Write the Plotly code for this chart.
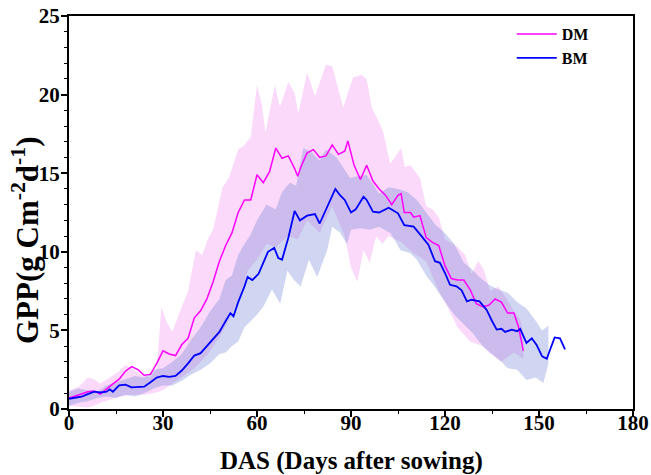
import plotly.graph_objects as go

# ---- DM (mean line) ----
dm_day = [0, 2, 4, 6, 8, 10, 12, 14, 16, 18, 20, 22, 24, 26, 28, 30, 32, 34, 36, 38,
          40, 42, 44, 46, 48, 50, 52, 54, 56, 58, 60, 62, 64, 66, 68, 70, 72, 73, 74, 76,
          78, 80, 82, 84, 86, 88, 89, 91, 93, 95, 97, 99, 101, 103, 105, 106, 107, 109, 110, 112,
          114, 116, 118, 120, 122, 124, 126, 128, 130, 132, 134, 136, 138, 140, 142, 143.5, 145]
dm_gpp = [0.7, 0.8, 0.95, 1.1, 1.15, 0.95, 1.3, 1.6, 1.9, 2.4, 2.7, 2.5, 2.15, 2.2, 2.9, 3.7, 3.5, 3.4, 4.1, 4.5,
          5.8, 6.25, 7.0, 8.1, 9.4, 10.4, 11.2, 12.5, 13.3, 13.3, 14.9, 14.4, 15.1, 16.6, 15.95, 16.1, 15.3, 14.8, 15.4, 16.3,
          16.5, 16.0, 16.1, 16.8, 16.2, 16.4, 17.05, 15.5, 14.6, 15.5, 14.5, 14.0, 13.6, 13.0, 13.6, 13.7, 12.5, 12.5, 12.2, 12.3,
          10.9, 10.6, 10.4, 9.1, 8.3, 8.2, 8.2, 7.6, 6.7, 6.5, 6.6, 7.0, 6.8, 6.1, 6.1, 5.2, 3.7]

# ---- DM band ----
dm_band_upper_day = [0, 3, 6, 8, 10, 13, 16, 18, 20, 23, 26, 28, 29.5, 31, 33, 35, 38, 40.5, 42.5, 44.5,
                     46, 49, 51, 54, 56, 58, 60, 61.5, 62.7, 65.7, 67.3, 70, 72, 73.2, 76, 78.5, 82, 84, 87.5, 90.7,
                     93.4, 95, 96.6, 99, 100.3, 102.5, 106, 107.2, 109, 112, 114, 116, 118, 120, 124, 126.4, 128.5, 130.6, 132.3, 134.4,
                     137, 139.7, 142.4, 144, 145]
dm_band_upper = [1.2, 1.4, 2.0, 1.9, 1.6, 2.0, 2.4, 2.8, 2.6, 2.2, 2.0, 2.6, 6.5, 5.6, 4.9, 6.0, 7.5, 10.1, 9.8, 10.9,
                 11.4, 14.1, 14.7, 16.5, 16.8, 17.3, 20.6, 19.4, 17.6, 20.6, 19.2, 20.8, 20.1, 18.8, 21.4, 19.9, 21.9, 21.8, 19.2, 21.1,
                 21.25, 21.0, 19.2, 18.2, 17.6, 15.6, 16.6, 15.4, 15.5, 14.7, 12.9, 12.7, 12.2, 10.8, 10.3, 9.8, 8.6, 9.4, 8.9, 7.5,
                 7.8, 7.0, 6.1, 5.7, 4.8]
dm_band_lower_day = [0, 3, 6, 8, 10, 12, 16, 20, 24, 27, 30, 33, 36, 40, 44, 48, 52, 55, 57, 60,
                     63, 66, 70, 73, 76, 80, 84, 88, 90, 92, 94, 96, 98, 100, 102, 104, 106, 110, 114, 118,
                     120, 124, 128, 132, 134, 138, 140, 142, 145]
dm_band_lower = [0.2, 0.15, 0.1, 0.2, 0.4, 0.55, 0.78, 0.9, 0.9, 1.0, 1.2, 1.6, 2.0, 2.6, 3.4, 4.6, 6.0, 7.5, 8.8, 9.5,
                 10.5, 10.3, 11.0, 10.8, 12.0, 11.2, 12.9, 11.0, 9.0, 8.1, 10.1, 9.3, 11.0, 10.5, 11.0, 10.8, 10.6, 9.9, 9.4, 7.5,
                 6.8, 5.2, 4.3, 4.0, 3.6, 3.0, 3.3, 3.6, 3.2]

# ---- BM (mean line) ----
bm_day = [0, 2, 4, 6, 8, 10, 12, 13, 14, 16, 18, 20, 22, 24, 26, 28, 30, 32, 34, 36,
          38, 40, 42, 44, 46, 48, 50, 51.5, 52.5, 54, 56, 57, 58.5, 60.5, 62, 63.5, 65.5, 66.8, 68, 70,
          72, 73.7, 76, 78.5, 80, 82.8, 85, 86.5, 88, 90, 91.5, 94, 95, 97, 99, 102, 105, 107, 110, 112.5,
          114.7, 116.8, 118.4, 120, 121.6, 123.7, 125.3, 127, 128.5, 131, 133.3, 135, 136.5, 138, 139.2, 141.3, 143, 144, 146, 147.7,
          149.3, 151, 152.5, 153.5, 155, 156.7, 158.3]
bm_gpp = [0.65, 0.7, 0.78, 0.95, 1.1, 1.05, 1.1, 1.25, 1.1, 1.5, 1.55, 1.38, 1.4, 1.42, 1.7, 2.0, 2.1, 2.05, 2.1, 2.45,
          2.9, 3.4, 3.55, 4.0, 4.4, 4.9, 5.6, 6.1, 5.9, 6.8, 7.8, 8.4, 8.2, 8.6, 9.3, 10.0, 10.25, 9.6, 9.5, 10.9,
          12.6, 12.0, 12.3, 12.4, 11.8, 13.1, 14.0, 13.6, 13.3, 12.5, 12.7, 13.5, 13.3, 12.55, 12.5, 12.8, 12.45, 11.7, 11.6, 11.0,
          10.45, 9.4, 9.3, 8.65, 7.9, 7.8, 7.55, 6.85, 6.95, 6.85, 6.3, 5.6, 5.05, 5.1, 4.9, 5.05, 4.95, 5.1, 4.2, 4.5,
          4.05, 3.35, 3.2, 3.75, 4.55, 4.5, 3.8]

# ---- BM band ----
bm_band_upper_day = [0, 3, 6, 9, 12, 15, 18, 21, 24, 27, 30, 33, 36, 39, 42, 45, 48, 50, 52, 54,
                     56, 58, 60, 63, 66, 68, 70.5, 72.5, 74.8, 77.5, 80, 82, 85.4, 87.5, 89.7, 92, 95, 99, 102, 105,
                     108, 111, 114, 117, 120, 123, 126, 128, 131, 134, 137, 140, 143, 146, 149, 151, 153]
bm_band_upper = [1.1, 1.3, 1.2, 1.1, 1.5, 1.7, 1.9, 2.1, 2.0, 2.5, 2.6, 3.0, 3.5, 4.4, 5.2, 6.2, 7.0, 8.2, 8.5, 9.8,
                 10.5, 11.1, 12.0, 13.0, 12.7, 13.8, 14.4, 14.2, 16.6, 16.3, 15.8, 16.5, 16.0, 15.4, 14.7, 14.8, 14.9, 13.7, 14.1, 14.0,
                 13.8, 13.3, 12.5, 11.7, 11.2, 10.5, 9.3, 9.0, 8.4, 7.9, 7.6, 7.4, 6.8, 6.4, 5.6, 5.0, 5.3]
bm_band_lower_day = [0, 3, 6, 9, 12, 15, 18, 21, 24, 27, 30, 33, 36, 39, 42, 45, 48, 50, 52, 54,
                     56, 58, 60, 62, 64.8, 67.4, 69.7, 71.8, 73.9, 76.6, 79.2, 82.4, 84, 86.6, 88.7, 90, 93, 96, 99, 102.6,
                     105.8, 109, 111, 114, 117, 120, 123, 126, 129, 132, 135, 138, 140, 143, 146, 149, 151.4, 153]
bm_band_lower = [0.2, 0.4, 0.5, 0.7, 0.8, 0.7, 0.9, 0.8, 1.0, 1.3, 1.5, 1.5, 1.8, 2.2, 2.5, 2.9, 3.5, 3.6, 4.0, 4.3,
                 5.2, 5.6, 6.0, 6.5, 7.6, 6.7, 8.8, 8.2, 7.8, 9.5, 8.4, 10.1, 11.6, 11.2, 10.5, 11.4, 11.5, 11.4, 11.6, 11.2,
                 10.1, 9.9, 9.5, 8.5, 7.7, 6.8, 6.0, 5.4, 4.8, 4.0, 3.5, 3.0, 2.6, 2.5, 1.85, 2.0, 1.65, 2.9]

x_ticks = [0, 30, 60, 90, 120, 150, 180]
y_ticks = [0, 5, 10, 15, 20, 25]

FONT = "Liberation Serif"


def band_poly(xu, yu, xl, yl):
    return list(xu) + list(reversed(xl)), list(yu) + list(reversed(yl))


fig = go.Figure()

px_, py_ = band_poly(dm_band_upper_day, dm_band_upper, dm_band_lower_day, dm_band_lower)
fig.add_trace(go.Scatter(x=px_, y=py_, fill="toself", mode="lines", line=dict(width=0),
                         fillcolor="rgba(238,130,238,0.30)", showlegend=False, hoverinfo="skip"))
bx_, by_ = band_poly(bm_band_upper_day, bm_band_upper, bm_band_lower_day, bm_band_lower)
fig.add_trace(go.Scatter(x=bx_, y=by_, fill="toself", mode="lines", line=dict(width=0),
                         fillcolor="rgba(100,120,210,0.30)", showlegend=False, hoverinfo="skip"))

fig.add_trace(go.Scatter(x=dm_day, y=dm_gpp, mode="lines", name="<b>DM</b>",
                         line=dict(color="#FF00FF", width=1.5)))
fig.add_trace(go.Scatter(x=bm_day, y=bm_gpp, mode="lines", name="<b>BM</b>",
                         line=dict(color="#0000FF", width=1.8)))

fig.update_layout(
    width=651, height=475,
    margin=dict(l=69, r=18, t=16, b=66),
    paper_bgcolor="white", plot_bgcolor="white",
    font=dict(family=FONT, color="black", size=20),
    showlegend=True,
    legend=dict(x=0.785, y=0.997, xanchor="left", yanchor="top",
                bgcolor="rgba(0,0,0,0)", font=dict(family=FONT, size=16, color="black"),
                tracegroupgap=0, itemwidth=40),
    xaxis=dict(range=[0, 180], tickvals=x_ticks, ticktext=[f"<b>{v}</b>" for v in x_ticks],
               showgrid=False, zeroline=False, showline=True, linecolor="black", linewidth=2,
               mirror=True, ticks="outside", ticklen=6, tickwidth=1.5, tickcolor="black",
               minor=dict(dtick=15, ticks="outside", ticklen=3, tickwidth=1.2, tickcolor="black"),
               tickfont=dict(size=21), ticklabelstandoff=-12, automargin=False),
    yaxis=dict(range=[0, 25], tickvals=y_ticks, ticktext=[f"<b>{v}</b>" for v in y_ticks],
               showgrid=False, zeroline=False, showline=True, linecolor="black", linewidth=2,
               mirror=True, ticks="outside", ticklen=6, tickwidth=1.5, tickcolor="black",
               minor=dict(dtick=1, ticks="outside", ticklen=3, tickwidth=1.2, tickcolor="black"),
               tickfont=dict(size=21), ticklabelstandoff=-3, automargin=False),
    annotations=[
        dict(text="<b>DAS (Days after sowing)</b>", xref="paper", yref="paper",
             x=0.5, y=0, xanchor="center", yanchor="middle", yshift=-52,
             showarrow=False, font=dict(size=25, family=FONT, color="black")),
        dict(text="<b>GPP(g Cm<sup>-2</sup>d<sup>-1</sup>)</b>", xref="paper", yref="paper",
             x=0, y=0.43, xanchor="center", yanchor="middle", xshift=-44, textangle=-90,
             showarrow=False, font=dict(size=31, family=FONT, color="black")),
    ],
)

fig.write_html("out.html", config={"displayModeBar": False},
               post_script="document.body.style.margin='0';")
